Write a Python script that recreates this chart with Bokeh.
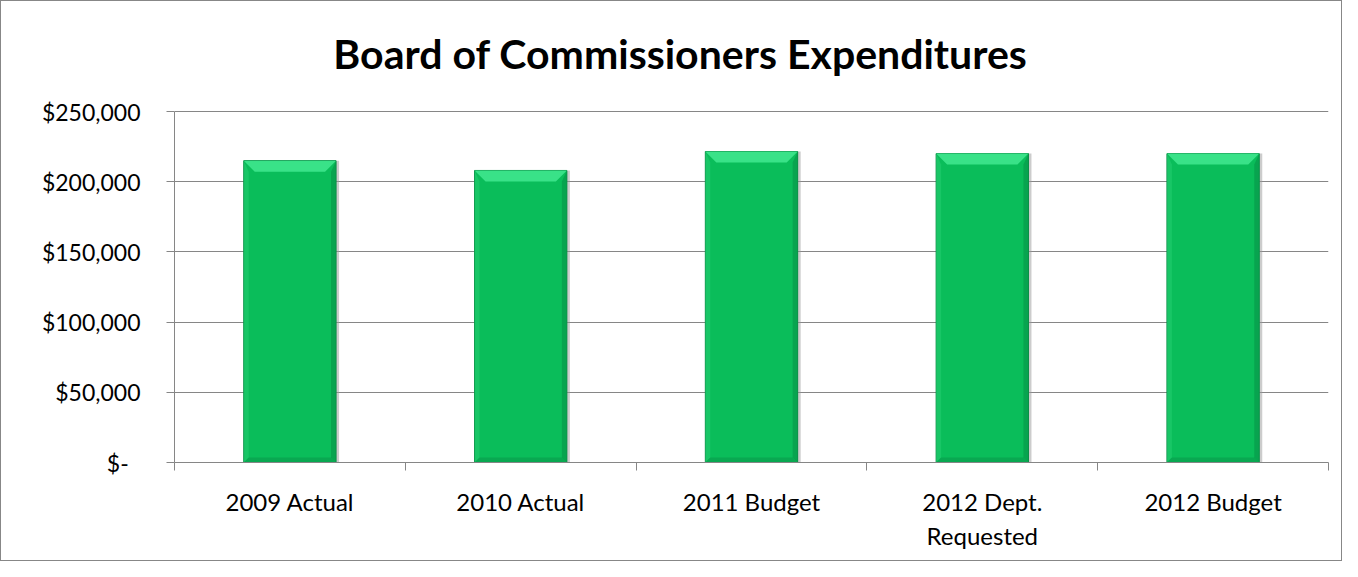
from bokeh.plotting import figure
from bokeh.models import Range1d, FixedTicker
from bokeh.core.properties import value
from bokeh.embed import file_html
from bokeh.resources import INLINE

# ---- data ----
title_text = "Board of Commissioners Expenditures"
categories = ["2009 Actual", "2010 Actual", "2011 Budget", "2012 Dept.\nRequested", "2012 Budget"]
expenditures = [215000, 208000, 221500, 220000, 220000]
y_ticks = [0, 50000, 100000, 150000, 200000, 250000]
y_tick_labels = ["$-\u00a0\u00a0", "$50,000", "$100,000", "$150,000", "$200,000", "$250,000"]

W, H = 1342, 561
LEFT, RIGHT, FRAME_TOP, BOTTOM = 173, 15, 5, 100
VALUE_TOP = 110            # pixel row of the top tick value
TITLE_Y = 52               # pixel row of the title centre
TITLE_X = 679              # pixel column of the title centre
frame_w = W - LEFT - RIGHT
n = len(categories)
ymax = y_ticks[-1]
px_x = n / frame_w                          # data units per pixel (x)
px_y = ymax / (H - BOTTOM - VALUE_TOP)      # data units per pixel (y)
y_end = ymax + (VALUE_TOP - FRAME_TOP) * px_y

centers = [i + 0.5 for i in range(n)]
bar_w = 0.4

p = figure(width=W, height=H, output_backend="svg", toolbar_location=None,
           x_range=Range1d(0, n), y_range=Range1d(0, y_end),
           min_border_left=LEFT, min_border_right=RIGHT,
           min_border_top=FRAME_TOP, min_border_bottom=BOTTOM)
p.styles = {"border": "1px solid #878787"}
p.outline_line_color = None
p.background_fill_color = "white"
p.border_fill_color = "white"

# title
p.text(x=[(TITLE_X - LEFT) * px_x], y=[ymax + (VALUE_TOP - TITLE_Y) * px_y], text=[title_text],
       text_align="center", text_baseline="middle", text_font=value("Lato"),
       text_font_size="41px", text_font_style="bold", text_color="black")

# shadow
p.vbar(x=[c + 3 * px_x for c in centers], top=expenditures, bottom=0, width=bar_w,
       fill_color="#9a9a9a", fill_alpha=0.5, line_color=None)
# main bars
p.vbar(x=centers, top=expenditures, bottom=0, width=bar_w,
       fill_color="#0abd5a", line_color="#0a8a44", line_width=1)

# bevels
hw = bar_w / 2
dx = 11 * px_x
dy = 11 * px_y
sx = 5 * px_x
sy = 5 * px_y
top_xs, top_ys, r_xs, r_ys, l_xs, l_ys, b_xs, b_ys = [], [], [], [], [], [], [], []
for c, t in zip(centers, expenditures):
    top_xs.append([c - hw, c + hw, c + hw - dx, c - hw + dx])
    top_ys.append([t, t, t - dy, t - dy])
    r_xs.append([c + hw, c + hw, c + hw - sx, c + hw - sx])
    r_ys.append([t, 0, sy, t - dy])
    l_xs.append([c - hw, c - hw, c - hw + sx, c - hw + sx])
    l_ys.append([t, 0, sy, t - dy])
    b_xs.append([c - hw, c + hw, c + hw - sx, c - hw + sx])
    b_ys.append([0, 0, sy, sy])
p.patches(r_xs, r_ys, fill_color="#079a4a", fill_alpha=0.7, line_color=None)
p.patches(l_xs, l_ys, fill_color="#22cc6e", fill_alpha=0.6, line_color=None)
p.patches(b_xs, b_ys, fill_color="#08a04d", fill_alpha=0.7, line_color=None)
p.patches(top_xs, top_ys, fill_color="#3ee68d", fill_alpha=0.9, line_color=None)

# axes
p.xgrid.grid_line_color = None
p.ygrid.grid_line_color = "#868686"
p.ygrid.grid_line_width = 1
p.ygrid.ticker = FixedTicker(ticks=y_ticks)

xa = p.xaxis[0]
xa.ticker = FixedTicker(ticks=centers, minor_ticks=list(range(n + 1)))
xa.major_label_overrides = {c: lab for c, lab in zip(centers, categories)}
xa.major_tick_out = 0
xa.major_tick_in = 0
xa.minor_tick_out = 8
xa.minor_tick_in = 0
xa.minor_tick_line_color = "#868686"
xa.axis_line_color = "#868686"
xa.major_label_standoff = 16
xa.major_label_text_font = "Lato"
xa.major_label_text_font_size = "24px"
xa.major_label_text_color = "black"

ya = p.yaxis[0]
ya.bounds = (0, ymax)
ya.ticker = FixedTicker(ticks=y_ticks)
ya.major_label_overrides = {t: lab for t, lab in zip(y_ticks, y_tick_labels)}
ya.major_tick_out = 8
ya.major_tick_in = 0
ya.minor_tick_line_color = None
ya.major_tick_line_color = "#868686"
ya.axis_line_color = "#868686"
ya.major_label_standoff = 26
ya.major_label_text_font = "Lato"
ya.major_label_text_font_size = "23px"
ya.major_label_text_color = "black"

open("out.html", "w").write(file_html(p, INLINE))
